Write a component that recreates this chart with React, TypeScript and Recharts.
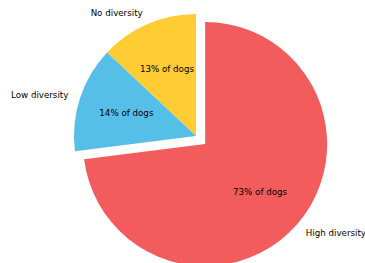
import { Cell, Pie, PieChart } from "recharts"

const categories = ["No diversity", "Low diversity", "High diversity"]
const shares = [13, 14, 73]
const colors = ["#ffcc33", "#56bfe8", "#f25c5c"]

const data = categories.map((name, i) => ({ name, value: shares[i] }))

const RADIAN = Math.PI / 180
const START = 90
const RADIUS = 122
const BASE_X = 196
const BASE_Y = 136
const EXPLODE_INDEX = 2
const EXPLODE = 0.1

// mid angle of exploded wedge, used to shift its pie
const total = shares.reduce((a, b) => a + b, 0)
const before = shares.slice(0, EXPLODE_INDEX).reduce((a, b) => a + b, 0)
const explodeMid = START + ((before + shares[EXPLODE_INDEX] / 2) / total) * 360
const shiftX = EXPLODE * RADIUS * Math.cos(explodeMid * RADIAN)
const shiftY = -EXPLODE * RADIUS * Math.sin(explodeMid * RADIAN)

const font = { fontFamily: "DejaVu Sans", fontSize: 8.7, fill: "#000" }

function makeLabel(show: (i: number) => boolean) {
	return (props: any) => {
		const { cx, cy, midAngle, outerRadius, index, percent, name } = props
		if (!show(index)) return <g />
		const cos = Math.cos(-midAngle * RADIAN)
		const sin = Math.sin(-midAngle * RADIAN)
		const lx = cx + outerRadius * 1.1 * cos
		const ly = cy + outerRadius * 1.1 * sin
		const px = cx + outerRadius * 0.6 * cos
		const py = cy + outerRadius * 0.6 * sin
		return (
			<g>
				<text
					x={lx}
					y={ly}
					textAnchor={lx > cx ? "start" : "end"}
					dominantBaseline="central"
					{...font}
				>
					{name}
				</text>
				<text x={px} y={py} textAnchor="middle" dominantBaseline="central" {...font}>
					{`${Math.round(percent * 100)}% of dogs`}
				</text>
			</g>
		)
	}
}

export default function App() {
	return (
		<div style={{ position: "absolute", left: 0, top: 0, width: 365, height: 263, background: "#fff" }}>
			<PieChart width={365} height={263} margin={{ top: 0, right: 0, bottom: 0, left: 0 }}>
				<Pie
					data={data}
					dataKey="value"
					nameKey="name"
					cx={BASE_X}
					cy={BASE_Y}
					outerRadius={RADIUS}
					startAngle={START}
					endAngle={START + 360}
					stroke="none"
					labelLine={false}
					label={makeLabel((i) => i !== EXPLODE_INDEX)}
					isAnimationActive={false}
				>
					{data.map((entry, i) => (
						<Cell key={entry.name} fill={i === EXPLODE_INDEX ? "none" : colors[i]} />
					))}
				</Pie>
				<Pie
					data={data}
					dataKey="value"
					nameKey="name"
					cx={BASE_X + shiftX}
					cy={BASE_Y + shiftY}
					outerRadius={RADIUS}
					startAngle={START}
					endAngle={START + 360}
					stroke="none"
					labelLine={false}
					label={makeLabel((i) => i === EXPLODE_INDEX)}
					isAnimationActive={false}
				>
					{data.map((entry, i) => (
						<Cell key={entry.name} fill={i === EXPLODE_INDEX ? colors[i] : "none"} />
					))}
				</Pie>
			</PieChart>
		</div>
	)
}
